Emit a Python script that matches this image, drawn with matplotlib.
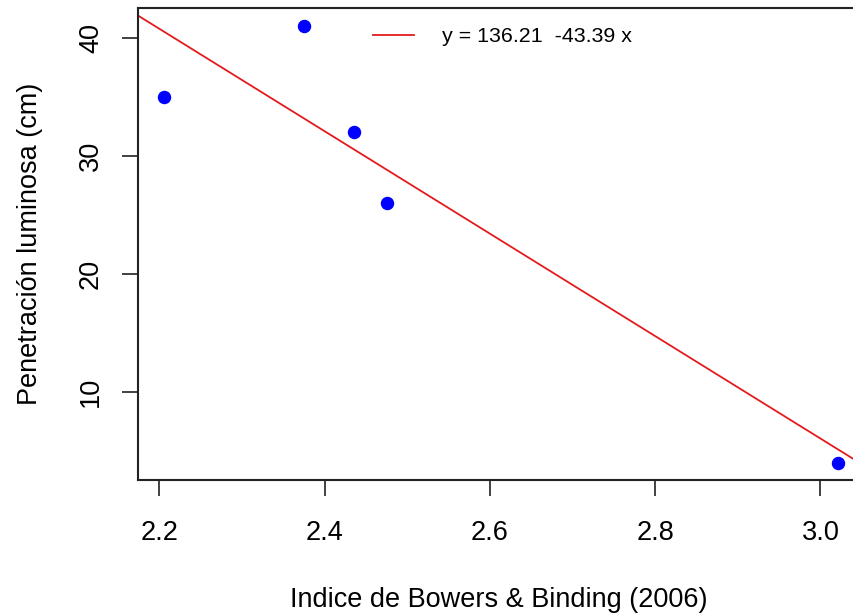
import matplotlib.pyplot as plt
import numpy as np

plt.rcParams['font.family'] = ['Liberation Sans', 'DejaVu Sans']

# datos
indice = [2.206, 2.375, 2.436, 2.476, 3.021]
penetracion = [35, 41, 32, 26, 4]
a, b = 136.21, -43.39

fig = plt.figure(figsize=(8.54, 6.14), dpi=100)
ax = fig.add_axes([138 / 854, 1 - 480 / 614, (860 - 138) / 854, (480 - 8) / 614])

ax.scatter(indice, penetracion, s=75, color='blue', zorder=3)
xs = np.array([2.17, 3.05])
ax.plot(xs, a + b * xs, color='#e41a1c', lw=1.3, label='y = 136.21  -43.39 x')

ax.set_xlim(2.174, 3.048)
ax.set_ylim(2.52, 42.52)
ax.set_xticks([2.2, 2.4, 2.6, 2.8, 3.0])
ax.set_yticks([10, 20, 30, 40])
ax.set_xticklabels(['2.2', '2.4', '2.6', '2.8', '3.0'])
ax.set_yticklabels(['10', '20', '30', '40'], rotation=90, va='center')
ax.tick_params(length=11.5, width=1.3, labelsize=19.5, color='#333333')
ax.tick_params(axis='x', pad=17)
ax.tick_params(axis='y', pad=13)
ax.spines['right'].set_visible(False)
for s in ax.spines.values():
    s.set_linewidth(1.5)
    s.set_color('#222222')

ax.set_xlabel('Indice de Bowers & Binding (2006)', fontsize=19.5, labelpad=30)
ax.set_ylabel('Penetración luminosa (cm)', fontsize=19.5, labelpad=25)

ax.legend(loc='upper center', bbox_to_anchor=(0.505, 1.0), frameon=False,
          fontsize=15.4, handlelength=1.9, handletextpad=1.3)

plt.savefig('out.png', dpi=100)
